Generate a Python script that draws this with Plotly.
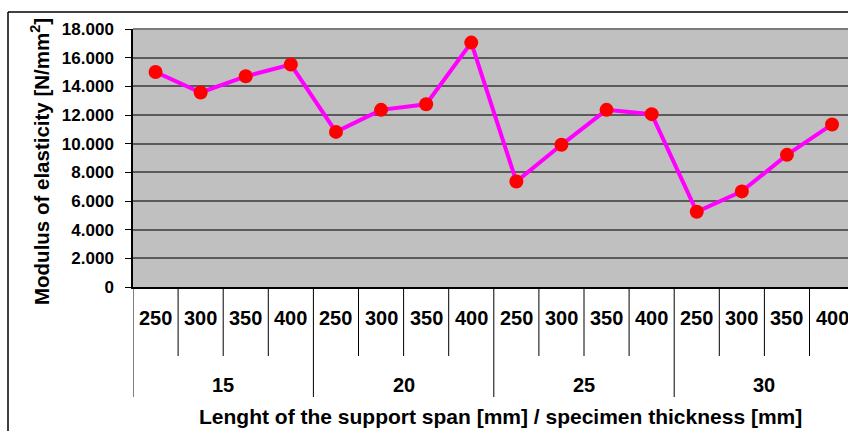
import plotly.graph_objects as go

thickness_groups = ["15", "20", "25", "30"]
span_labels = ["250", "300", "350", "400"]
modulus_values = [15000, 13570, 14700, 15520,
                  10820, 12360, 12750, 17050,
                  7360, 9920, 12360, 12060,
                  5250, 6670, 9220, 11340]
y_ticks = list(range(0, 18001, 2000))

n_span = len(span_labels)
inner_text = [s for g in thickness_groups for s in span_labels]
xs = list(range(len(inner_text)))

W, H = 848, 431
ML, MR, MT, MB = 133, 0, 29, 144
plot_w = W - ML - MR
plot_h = H - MT - MB
cat_w = 45.1
x_max = -0.5 + plot_w / cat_w

def py(p):
    return (H - MB - p) / plot_h

def px(p):
    return (p - ML) / plot_w

FONT = "Liberation Sans, Arial, sans-serif"

def bfont(size):
    return dict(family=FONT, size=size, color="black", weight="bold")

fig = go.Figure()
fig.add_trace(go.Scatter(
    x=xs, y=modulus_values, mode="lines+markers",
    line=dict(color="#FF00FF", width=4),
    marker=dict(color="#FF0000", size=14, line=dict(width=0)),
    showlegend=False, cliponaxis=False,
))

shapes = []
for i in range(len(inner_text)):
    b = i - 0.5
    is_group = (i % n_span == 0)
    shapes.append(dict(type="line", xref="x", yref="paper",
                       x0=b, x1=b, y0=0, y1=py(397) if is_group else py(356),
                       line=dict(color="black", width=1)))
shapes.append(dict(type="line", xref="paper", yref="paper",
                   x0=px(8), x1=px(860), y0=py(12), y1=py(12),
                   line=dict(color="black", width=1.5)))
shapes.append(dict(type="line", xref="paper", yref="paper",
                   x0=px(8), x1=px(8), y0=py(12), y1=py(445),
                   line=dict(color="black", width=1.5)))
shapes.append(dict(type="line", xref="paper", yref="paper",
                   x0=0, x1=1.01, y0=1, y1=1, layer="below",
                   line=dict(color="#7a7a7a", width=2)))

annotations = []
for i, t in enumerate(inner_text):
    annotations.append(dict(x=xs[i], xref="x", y=py(318), yref="paper",
                            text=t, showarrow=False, font=bfont(20),
                            xanchor="center", yanchor="middle"))
for gi, g in enumerate(thickness_groups):
    annotations.append(dict(x=gi * n_span + (n_span - 1) / 2, xref="x",
                            y=py(385), yref="paper", text=g, showarrow=False,
                            font=bfont(20), xanchor="center", yanchor="middle"))
annotations.append(dict(x=px(501), xref="paper", y=py(416), yref="paper",
                        text="Lenght of the support span [mm] / specimen thickness [mm]",
                        showarrow=False, font=bfont(21),
                        xanchor="center", yanchor="middle"))
annotations.append(dict(x=px(40), xref="paper", y=py(162), yref="paper",
                        text="Modulus of elasticity [N/mm<sup>2</sup>]",
                        textangle=-90, showarrow=False, font=bfont(20.5),
                        xanchor="center", yanchor="middle"))

fig.update_layout(
    width=W, height=H,
    margin=dict(l=ML, r=MR, t=MT, b=MB, pad=0),
    paper_bgcolor="white", plot_bgcolor="#C0C0C0",
    separators=",.",
    font=dict(family=FONT, color="black"),
    shapes=shapes, annotations=annotations,
    xaxis=dict(range=[-0.5, x_max], tickvals=xs, showticklabels=False,
               ticks="", showgrid=False, zeroline=False,
               showline=True, linecolor="black", linewidth=1.5),
    yaxis=dict(range=[0, 18000], tickvals=y_ticks, tickformat=",d",
               ticks="outside", ticklen=6, tickcolor="black", tickwidth=1,
               showgrid=True, gridcolor="#5a5a5a", gridwidth=2,
               zeroline=False, showline=True, linecolor="black", linewidth=1.5,
               tickfont=bfont(17), ticklabelstandoff=8),
)

fig.write_html("out.html")
